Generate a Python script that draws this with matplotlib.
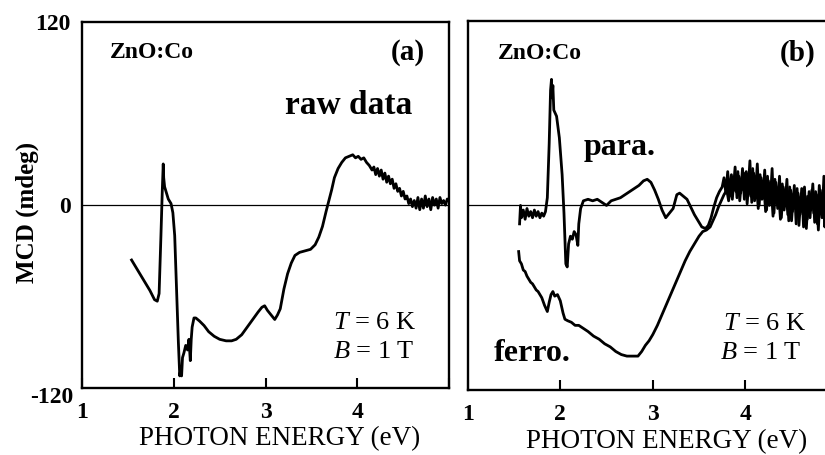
import numpy as np
import matplotlib
matplotlib.use('Agg')
import matplotlib.pyplot as plt

plt.rcParams['font.family'] = 'Liberation Serif'
plt.rcParams['mathtext.fontset'] = 'custom'
plt.rcParams['mathtext.it'] = 'Liberation Serif:italic'
plt.rcParams['mathtext.rm'] = 'Liberation Serif'

# Panel (a): raw data
energy_a = [1.54, 1.60, 1.67, 1.74, 1.79, 1.82, 1.84, 1.86, 1.875, 1.885, 1.89, 1.90, 1.92, 1.94, 1.97,
            1.99, 2.01, 2.03, 2.05, 2.065, 2.075, 2.085, 2.095, 2.11, 2.13, 2.15, 2.165, 2.18, 2.19, 2.20,
            2.22, 2.24, 2.28, 2.33, 2.38, 2.44, 2.50, 2.57, 2.63, 2.68, 2.74, 2.80, 2.86, 2.92, 2.96,
            2.99, 3.02, 3.06, 3.10, 3.13, 3.16, 3.20, 3.24, 3.28, 3.32, 3.37, 3.43, 3.49, 3.54, 3.58,
            3.62, 3.66, 3.69, 3.72, 3.75, 3.79, 3.83, 3.87, 3.91, 3.95, 3.98, 4.01, 4.04, 4.07, 4.10,
            4.13, 4.16, 4.18, 4.20, 4.22, 4.24, 4.26, 4.28, 4.30, 4.32, 4.34, 4.36, 4.38, 4.40, 4.42,
            4.44, 4.46, 4.48, 4.50, 4.52, 4.54, 4.56, 4.58, 4.60, 4.62, 4.64, 4.66, 4.68, 4.70, 4.72,
            4.74, 4.76, 4.78, 4.80, 4.82, 4.84, 4.86, 4.88, 4.90, 4.92, 4.94, 4.96, 4.98, 5.00]
mcd_a = [-36, -42, -49, -56, -62, -63, -58, -20, 10, 27, 18, 12, 8, 4, 1,
         -5, -20, -55, -90, -112, -108, -112, -100, -97, -92, -95, -88, -102, -88, -80,
         -74, -74, -76, -79, -83, -86, -88, -89, -89, -88, -85, -80, -75, -70, -67,
         -66, -69, -72, -75, -72, -68, -55, -45, -38, -33, -31, -30, -29, -26, -21,
         -14, -4, 3, 10, 18, 24, 28, 31, 32, 33, 31, 32, 30, 31, 28,
         26, 23, 25, 20, 24, 19, 23, 17, 21, 15, 19, 14, 17, 11, 14,
         9, 11, 6, 9, 4, 6, 1, 4, -1, 3, -2, 5, -3, 4, -2,
         6, -1, 4, -3, 5, 0, 4, -2, 5, 1, 3, 0, 4, 3]

# Panel (b): paramagnetic component
energy_para = [1.56, 1.57, 1.58, 1.60, 1.62, 1.64, 1.66, 1.68, 1.70, 1.72, 1.74, 1.76, 1.78, 1.80, 1.82,
               1.84, 1.86, 1.88, 1.895, 1.905, 1.91, 1.92, 1.93, 1.96, 1.99, 2.02, 2.04, 2.06, 2.075, 2.09,
               2.11, 2.13, 2.15, 2.17, 2.19, 2.20, 2.22, 2.25, 2.30, 2.35, 2.40, 2.45, 2.50, 2.55, 2.60,
               2.65, 2.70, 2.75, 2.80, 2.85, 2.90, 2.94, 2.98, 3.02, 3.06, 3.10, 3.14, 3.18, 3.22, 3.26,
               3.29, 3.33, 3.37, 3.41, 3.45, 3.49, 3.53, 3.57, 3.60, 3.63, 3.66, 3.69, 3.72, 3.75,
               3.77, 3.79, 3.81, 3.83, 3.85, 3.87, 3.89, 3.91, 3.93, 3.95, 3.97, 3.99, 4.01, 4.03, 4.05,
               4.07, 4.09, 4.11, 4.13, 4.15, 4.17, 4.19, 4.21, 4.23, 4.25, 4.27, 4.29, 4.31, 4.33, 4.35,
               4.37, 4.39, 4.41, 4.43, 4.45, 4.47, 4.49, 4.51, 4.53, 4.55, 4.57, 4.59, 4.61, 4.63, 4.65,
               4.67, 4.69, 4.71, 4.73, 4.75, 4.77, 4.79, 4.81, 4.83, 4.85, 4.87, 4.89, 4.91, 4.93, 4.95,
               4.97, 4.99]
mcd_para = [-12, 0, -8, -3, -9, -2, -7, -4, -8, -3, -7, -4, -8, -5, -7,
            -4, 5, 40, 75, 82, 70, 78, 62, 58, 44, 20, -5, -38, -40, -25,
            -20, -22, -17, -19, -26, -12, -2, 3, 4, 3, 4, 2, 0, 3, 4,
            5, 7, 9, 11, 13, 16, 17, 15, 10, 4, -3, -8, -5, -2, 7,
            8, 6, 4, -1, -6, -10, -14, -15, -13, -8, -1, 5, 9, 12,
            18, 8, 22, 6, 20, 10, 25, 5, 19, 8, 24, 4, 22, 9, 29,
            2, 21, 7, 27, 0, 18, 5, 23, -3, 16, 2, 24, -5, 15, -2,
            19, -8, 12, 0, 17, -10, 10, -4, 13, -12, 8, -6, 11, -14, 6,
            -9, 9, -3, 14, -11, 7, -16, 10, -8, 19, -4, 15, -12, 8, -20,
            12, -6]

# Panel (b): ferromagnetic component
energy_ferro = [1.55, 1.56, 1.58, 1.60, 1.62, 1.64, 1.66, 1.68, 1.70, 1.72, 1.74, 1.76, 1.78, 1.80, 1.83,
                1.86, 1.88, 1.90, 1.92, 1.94, 1.97, 2.00, 2.03, 2.05, 2.08, 2.12, 2.16, 2.20, 2.25, 2.30,
                2.36, 2.42, 2.48, 2.54, 2.60, 2.66, 2.72, 2.78, 2.84, 2.88, 2.92, 2.96, 3.00, 3.05, 3.10,
                3.15, 3.20, 3.25, 3.30, 3.35, 3.40, 3.45, 3.50, 3.54, 3.58, 3.62, 3.65, 3.68, 3.71, 3.74,
                3.77, 3.80, 3.82, 3.84, 3.86, 3.88, 3.90, 3.92, 3.94, 3.96, 3.98, 4.00, 4.02, 4.04, 4.06,
                4.08, 4.10, 4.12, 4.14, 4.16, 4.18, 4.20, 4.22, 4.24, 4.26, 4.28, 4.30, 4.32, 4.34, 4.36,
                4.38, 4.40, 4.42, 4.44, 4.46, 4.48, 4.50, 4.52, 4.54, 4.56, 4.58, 4.60, 4.62, 4.64, 4.66,
                4.68, 4.70, 4.72, 4.74, 4.76, 4.78, 4.80, 4.82, 4.84, 4.86, 4.88, 4.90, 4.92, 4.94, 4.96,
                4.98, 5.00]
mcd_ferro = [-30, -36, -38, -42, -43, -46, -48, -50, -51, -53, -55, -56, -58, -60, -65,
             -69, -63, -58, -56, -59, -58, -62, -70, -74, -75, -76, -78, -78, -80, -82,
             -85, -87, -90, -92, -95, -97, -98, -98, -98, -95, -91, -88, -84, -78, -71,
             -64, -57, -50, -43, -36, -30, -25, -20, -17, -16, -14, -10, -6, -1, 3,
             7, 10, 3, 16, 4, 18, 9, 22, 3, 17, 10, 21, 1, 17, 6,
             24, 3, 15, -2, 20, 4, 13, -4, 19, 0, 12, -7, 17, 1, 9,
             -9, 14, -3, 10, -6, 12, -10, 7, -2, 11, -13, 5, -4, 12, -15,
             6, -8, 10, -5, 9, -12, 13, -3, 6, -14, 11, -7, 16, -2, 9,
             -10, 4]

x_ticks = [1, 2, 3, 4, 5]
y_ticks = [-120, 0, 120]

fig = plt.figure(figsize=(8.25, 4.55), dpi=100)
ax_a = fig.add_axes([0.0994, 0.147, 0.445, 0.8044])
ax_b = fig.add_axes([0.567, 0.143, 0.4485, 0.811])

for ax in [ax_a, ax_b]:
    ax.set_xlim(1, 5)
    ax.set_ylim(-120, 120)
    ax.axhline(0, color='black', lw=0.9, zorder=1)
    for s in ax.spines.values():
        s.set_linewidth(1.7)
    ax.set_xticks(x_ticks)
    ax.set_xticklabels(['1', '2', '3', '4', ''])
    ax.tick_params(axis='x', direction='in', length=7, width=1.5, pad=10, labelsize=17)
    for lab in ax.get_xticklabels():
        lab.set_fontweight('bold')
    ax.set_xlabel('PHOTON ENERGY (eV)', fontsize=19.5)
    ax.xaxis.set_label_coords(0.537, -0.105)

# y axis only on the left panel; the bottom label sits a bit low
ax_a.set_yticks(y_ticks)
ax_a.set_yticklabels(['', '0', '120'])
ax_a.tick_params(axis='y', length=0, pad=8, labelsize=17)
for lab in ax_a.get_yticklabels():
    lab.set_fontweight('bold')
ax_a.annotate('-120', xy=(1, y_ticks[0]), xytext=(-6, -7), textcoords='offset points',
              ha='right', va='center', fontsize=17, fontweight='bold')
ax_a.set_ylabel('MCD (mdeg)', fontsize=18, fontweight='bold')
ax_a.yaxis.set_label_coords(-0.118, 0.48)
ax_b.set_yticks([])

# curves
ax_a.plot(energy_a, mcd_a, color='black', lw=2.0)
ax_b.plot(energy_para, mcd_para, color='black', lw=2.0)
ax_b.plot(energy_ferro, mcd_ferro, color='black', lw=2.0)

# annotations
ax_a.text(1.3, 100, 'ZnO:Co', fontsize=17, fontweight='bold', ha='left', va='center')
ax_a.text(4.55, 100, '(a)', fontsize=21, fontweight='bold', ha='center', va='center')
ax_a.text(3.9, 65, 'raw data', fontsize=24, fontweight='bold', ha='center', va='center')
ax_a.text(3.73, -77, r'$T$ = 6 K', fontsize=19, ha='left', va='center')
ax_a.text(3.73, -96, r'$B$ = 1 T', fontsize=19, ha='left', va='center')

ax_b.text(1.32, 99, 'ZnO:Co', fontsize=17, fontweight='bold', ha='left', va='center')
ax_b.text(4.57, 99, '(b)', fontsize=21, fontweight='bold', ha='center', va='center')
ax_b.text(2.64, 38, 'para.', fontsize=23, fontweight='bold', ha='center', va='center')
ax_b.text(1.70, -96, 'ferro.', fontsize=23, fontweight='bold', ha='center', va='center')
ax_b.text(3.76, -77, r'$T$ = 6 K', fontsize=19, ha='left', va='center')
ax_b.text(3.73, -96, r'$B$ = 1 T', fontsize=19, ha='left', va='center')

fig.savefig('out.png', dpi=100)
